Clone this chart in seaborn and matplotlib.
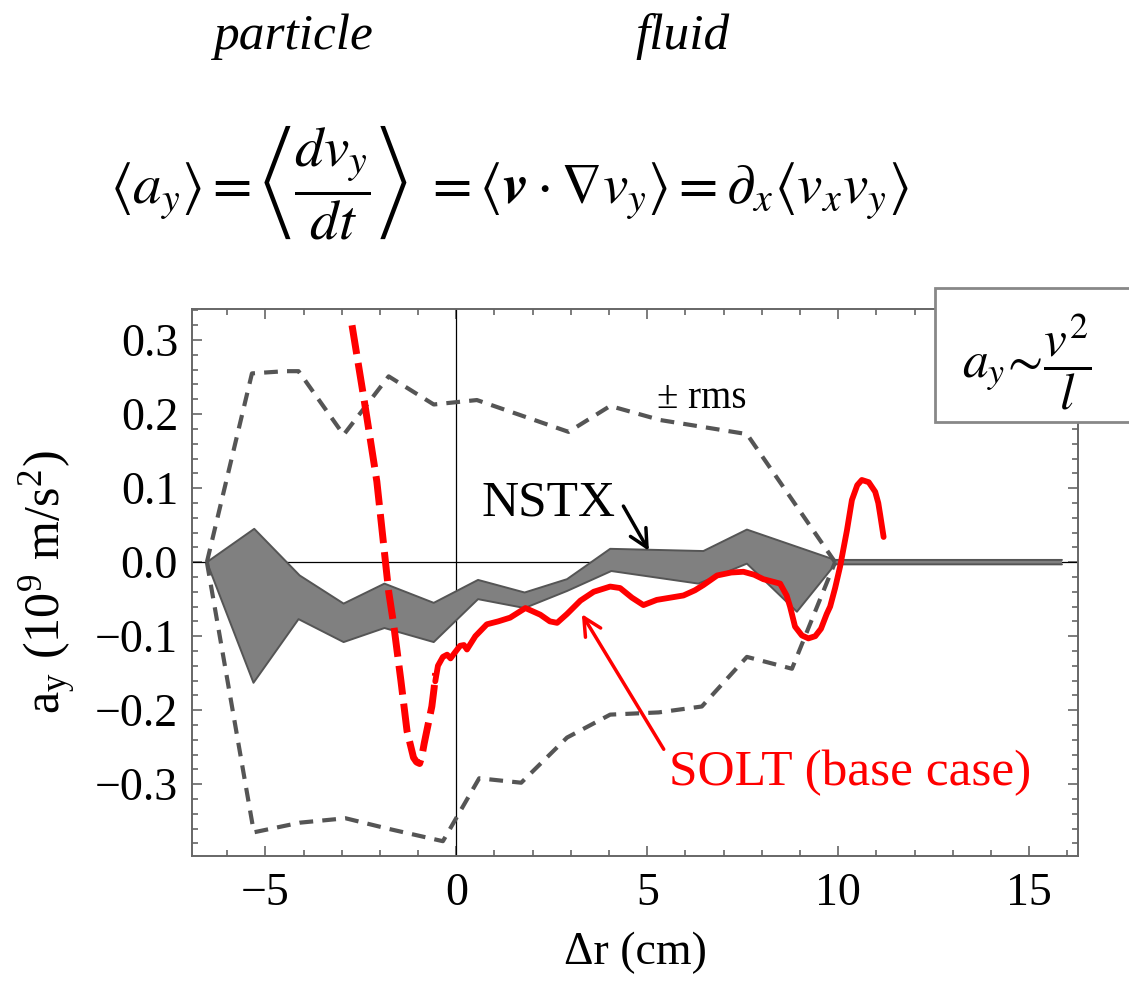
import matplotlib
matplotlib.use("Agg")
import matplotlib.pyplot as plt
import numpy as np
import pandas as pd
import seaborn as sns
from matplotlib.ticker import MultipleLocator, FuncFormatter
from matplotlib.patches import Rectangle

# ---- NSTX measured band (upper / lower envelope), Δr in cm, a_y in 1e9 m/s^2
nstx_hi_r = [-6.53, -5.29, -4.10, -2.95, -1.88, -0.59, 0.57, 1.79, 2.90, 4.03, 6.47, 7.61, 9.92, 15.86]
nstx_hi = [0.0, 0.045, -0.018, -0.056, -0.029, -0.055, -0.024, -0.041, -0.023, 0.018, 0.015, 0.044, 0.003, 0.003]
nstx_lo_r = [-6.53, -5.31, -4.13, -2.95, -1.88, -0.59, 0.57, 1.79, 2.90, 4.06, 6.34, 7.61, 8.92, 9.92, 15.86]
nstx_lo = [0.0, -0.163, -0.077, -0.108, -0.089, -0.108, -0.050, -0.062, -0.039, -0.012, -0.029, -0.002, -0.067, -0.003, -0.003]

# ---- ± rms envelope of the NSTX data
rms_hi_r = [-6.53, -5.35, -4.48, -4.13, -2.95, -1.77, -0.59, 0.54, 2.94, 4.03, 5.34, 7.61, 9.92]
rms_hi = [0.0, 0.255, 0.258, 0.258, 0.172, 0.251, 0.213, 0.219, 0.176, 0.211, 0.192, 0.173, 0.0]
rms_lo_r = [-6.53, -5.30, -4.10, -2.90, -1.80, -0.35, 0.60, 1.70, 2.90, 4.03, 5.30, 6.43, 7.61, 8.79, 9.92]
rms_lo = [0.0, -0.365, -0.352, -0.346, -0.360, -0.377, -0.292, -0.298, -0.237, -0.206, -0.203, -0.195, -0.128, -0.144, 0.0]

# ---- SOLT simulation (base case): dashed inner part, solid outer part
solt_in_r = [-2.73, -2.40, -2.08, -1.77, -1.64, -1.45, -1.29, -1.12, -1.04, -0.96, -0.90, -0.84,
             -0.72, -0.64, -0.58, -0.54]
solt_in = [0.320, 0.215, 0.109, -0.040, -0.084, -0.160, -0.228, -0.264, -0.270, -0.272, -0.262, -0.245,
           -0.215, -0.195, -0.170, -0.150]
solt_out_r = [-0.55, -0.48, -0.35, -0.24, -0.15, -0.05, 0.10, 0.20, 0.28, 0.50, 0.80, 1.10, 1.41, 1.81,
              2.20, 2.45, 2.64, 2.90, 3.25, 3.60, 4.03, 4.29, 4.60, 4.90, 5.25, 5.60, 5.95, 6.25, 6.47,
              6.83, 7.20, 7.52, 7.80, 8.04, 8.48, 8.65, 8.74, 8.87, 9.05, 9.22, 9.40, 9.55, 9.70, 9.79,
              9.92, 10.05, 10.23, 10.36, 10.50, 10.62, 10.80, 10.97, 11.05, 11.10, 11.19]
solt_out = [-0.161, -0.140, -0.128, -0.125, -0.130, -0.123, -0.113, -0.112, -0.118, -0.100, -0.084, -0.080,
            -0.075, -0.062, -0.071, -0.080, -0.082, -0.070, -0.052, -0.040, -0.033, -0.035, -0.048,
            -0.058, -0.051, -0.048, -0.045, -0.038, -0.031, -0.018, -0.014, -0.013, -0.017, -0.023,
            -0.029, -0.045, -0.060, -0.087, -0.099, -0.103, -0.100, -0.090, -0.070, -0.060, -0.035,
            -0.006, 0.043, 0.084, 0.104, 0.111, 0.108, 0.095, 0.080, 0.064, 0.034]

x_major = [-5, 0, 5, 10, 15]

sns.set_style("ticks")
plt.rcParams["font.family"] = ["Liberation Serif", "DejaVu Serif"]
plt.rcParams["mathtext.fontset"] = "stix"
plt.rcParams["axes.unicode_minus"] = True
plt.rcParams["text.color"] = "black"
plt.rcParams["axes.labelcolor"] = "black"

W, H = 1129, 982
fig = plt.figure(figsize=(W / 100, H / 100), dpi=100)
ax = fig.add_axes([192 / W, 126 / H, 886 / W, 547 / H])

# NSTX band
poly_x = nstx_hi_r + nstx_lo_r[::-1]
poly_y = nstx_hi + nstx_lo[::-1]
ax.fill(poly_x, poly_y, color="#808080", lw=0, zorder=2)
for rr, vv in ((nstx_hi_r, nstx_hi), (nstx_lo_r, nstx_lo)):
    sns.lineplot(x=rr, y=vv, ax=ax, color="#555555", lw=1.4, sort=False, estimator=None, zorder=3)

# ± rms envelope
for rr, vv in ((rms_hi_r, rms_hi), (rms_lo_r, rms_lo)):
    sns.lineplot(x=rr, y=vv, ax=ax, color="#555555", lw=3.0, sort=False, estimator=None,
                 linestyle=(0, (3.3, 2.2)), zorder=4)

# SOLT curve
sns.lineplot(x=solt_in_r, y=solt_in, ax=ax, color="#ff0000", lw=5.0, sort=False, estimator=None,
             linestyle=(0, (4.2, 1.3)), zorder=5)
sns.lineplot(x=solt_out_r, y=solt_out, ax=ax, color="#ff0000", lw=4.2, sort=False, estimator=None,
             solid_joinstyle="round", solid_capstyle="round", zorder=5)

# zero lines
ax.axhline(0, color="black", lw=0.9, zorder=1)
ax.axvline(0, color="black", lw=0.9, zorder=1)

ax.set_xlim(-6.92, 16.28)
ax.set_ylim(-0.397, 0.342)
ax.set_xticks(x_major)
ax.xaxis.set_minor_locator(MultipleLocator(1))
ax.yaxis.set_major_locator(MultipleLocator(0.1))
ax.yaxis.set_minor_locator(MultipleLocator(0.02))


def yfmt(v, _):
    s = f"{abs(v):.1f}"
    return ("\u2212" + s) if v < -1e-9 else s


def xfmt(v, _):
    s = f"{abs(v):g}"
    return ("\u2212" + s) if v < -1e-9 else s


ax.yaxis.set_major_formatter(FuncFormatter(yfmt))
ax.xaxis.set_major_formatter(FuncFormatter(xfmt))
ax.tick_params(which="both", direction="in", top=True, right=True, color="#666666", width=1.2,
               labelsize=33, labelcolor="black")
ax.tick_params(which="major", length=7.5)
ax.tick_params(which="minor", length=4.5)
ax.tick_params(axis="y", pad=10)
ax.tick_params(axis="x", pad=12)
for sp in ax.spines.values():
    sp.set_color("#666666")
    sp.set_linewidth(1.4)

ax.set_xlabel("\u0394r (cm)", fontsize=33, labelpad=12)
ax.set_ylabel(r"a$_\mathregular{y}$ (10$^\mathregular{9}$ m/s$^\mathregular{2}$)", fontsize=36, labelpad=12)

# annotations
ax.text(0.67, 0.063, "NSTX", fontsize=37, ha="left", va="baseline", zorder=6)
ax.annotate("", xy=(5.08, 0.012), xytext=(4.34, 0.079),
            arrowprops=dict(arrowstyle="->", lw=2.5, color="black", mutation_scale=32), zorder=6)
ax.text(5.26, 0.208, "\u00b1 rms", fontsize=28, ha="left", va="baseline", zorder=6)
ax.text(10.3, -0.285, "SOLT (base case)", fontsize=37, color="#ff0000", ha="center", va="center", zorder=6)
ax.annotate("", xy=(3.25, -0.067), xytext=(5.47, -0.256),
            arrowprops=dict(arrowstyle="->", lw=2.5, color="#ff0000", mutation_scale=32), zorder=6)

# header: particle / fluid and the momentum-flux identity
fig.text(293 / W, 0.963, "particle", fontsize=37, style="italic", ha="center", va="center")
fig.text(683 / W, 0.963, "fluid", fontsize=37, style="italic", ha="center", va="center")
fig.text(0.451, 0.815,
         r"$\langle a_y\rangle = \left\langle\dfrac{dv_y}{dt}\right\rangle\ = \langle\boldsymbol{v}\cdot\nabla v_y\rangle = \partial_x\langle v_x v_y\rangle$",
         fontsize=41, ha="center", va="center")

# scaling box
box = Rectangle((935 / W, 1 - 422 / H), 0.2, 134 / H, transform=fig.transFigure,
                facecolor="white", edgecolor="#888888", lw=2.0, zorder=10)
fig.add_artist(box)
fig.text(1027 / W, 1 - 362 / H, r"$a_y\!\sim\!\dfrac{v^2}{l}$", fontsize=37,
         ha="center", va="center", zorder=11)

fig.savefig("out.png", dpi=100, facecolor="white")
